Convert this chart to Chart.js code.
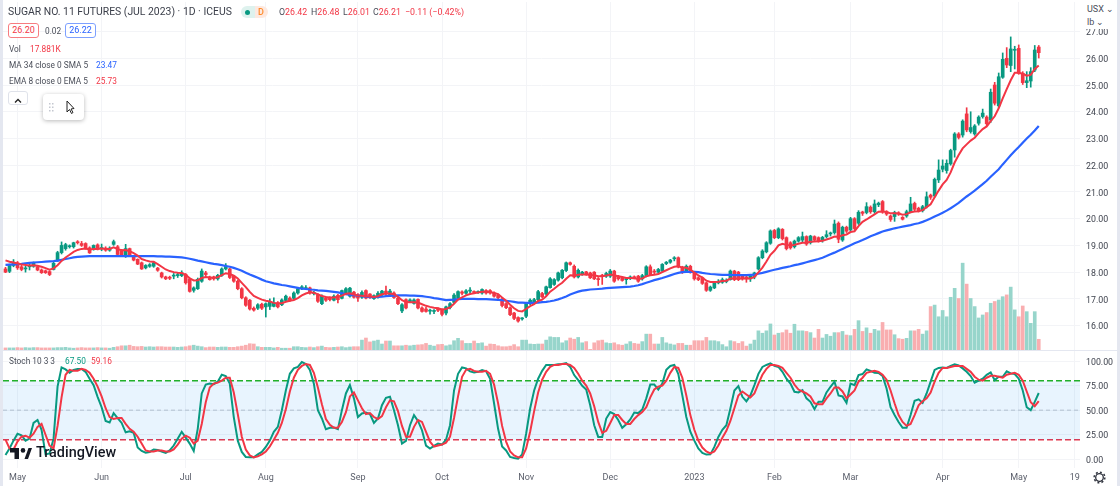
<!DOCTYPE html>
<html>
<head>
<meta charset="utf-8">
<title>Sugar No. 11 Futures</title>
<script src="https://cdn.jsdelivr.net/npm/chart.js@4"></script>
<style>
    html, body { margin: 0; padding: 0; background: #fff; overflow: hidden; }
    body { width: 1120px; height: 486px; position: relative; font-family: Roboto, sans-serif; color: #4a4e59; }
    canvas { position: absolute; left: 0; }
    .t { position: absolute; white-space: nowrap; font-size: 8.3px; line-height: 12px; }
    .red { color: #f23645; }
    .blue { color: #2962ff; }
    .teal { color: #089981; }
    .box { position: absolute; box-sizing: border-box; height: 15px; width: 31px; top: 23px; border-radius: 3px; background: #fff; font-size: 9px; line-height: 13px; text-align: center; }
    .edge { position: absolute; background: #e4e7f0; }
</style>
</head>
<body>
<canvas id="priceChart" width="1120" height="351" style="top:0"></canvas>
<canvas id="stochChart" width="1120" height="135" style="top:351px"></canvas>

<div class="edge" style="left:0;top:0;width:3px;height:486px"></div>
<div class="edge" style="left:1117px;top:0;width:3px;height:486px"></div>
<div class="edge" style="left:3px;top:350px;width:1114px;height:1px"></div>
<div style="position:absolute;left:1081px;top:0;width:36px;height:29px;background:#fff"></div>

<div class="t" style="left:1087px;top:3px;font-size:9px">USX &#8964;</div>
<div class="t" style="left:1087px;top:16px;font-size:9px">lb &#8964;</div>

<div class="t" style="left:8px;top:6px;font-size:10.4px;color:#3a3e49">SUGAR NO. 11 FUTURES (JUL 2023) · 1D · ICEUS</div>
<div style="position:absolute;left:241px;top:6px;width:14px;height:12px;background:#def2ee;border-radius:6px 0 0 6px"></div>
<div style="position:absolute;left:255px;top:6px;width:13px;height:12px;background:#fde9e0;border-radius:0 6px 6px 0"></div>
<div style="position:absolute;left:245px;top:9.5px;width:5px;height:5px;background:#089981;border-radius:50%"></div>
<div class="t" style="left:258px;top:6px;font-size:9px;color:#ff8a2b;font-weight:500">D</div>
<div class="t" style="left:279px;top:6px;font-size:8.8px"><span>O</span><span class="red">26.42</span></div>
<div class="t" style="left:311px;top:6px;font-size:8.8px"><span>H</span><span class="red">26.48</span></div>
<div class="t" style="left:343px;top:6px;font-size:8.8px"><span>L</span><span class="red">26.01</span></div>
<div class="t" style="left:373px;top:6px;font-size:8.8px"><span>C</span><span class="red">26.21</span></div>
<div class="t red" style="left:405px;top:6px;font-size:8.8px">−0.11 (−0.42%)</div>

<div class="box red" style="left:8px;border:1px solid #f77c80">26.20</div>
<div class="t" style="left:45px;top:25px">0.02</div>
<div class="box blue" style="left:65px;border:1px solid #7da0ff">26.22</div>

<div class="t" style="left:9px;top:43px">Vol</div>
<div class="t red" style="left:30px;top:43px">17.881K</div>
<div class="t" style="left:9px;top:59px">MA 34 close 0 SMA 5</div>
<div class="t blue" style="left:96px;top:59px">23.47</div>
<div class="t" style="left:9px;top:75px">EMA 8 close 0 EMA 5</div>
<div class="t red" style="left:96px;top:75px">25.73</div>

<div style="position:absolute;left:8px;top:91px;width:20px;height:14px;box-sizing:border-box;border:1px solid #dfe2ea;border-radius:3px;background:#fff">
    <svg width="18" height="12"><path d="M6 7.5 L9 4.5 L12 7.5" fill="none" stroke="#222" stroke-width="1.3"/></svg>
</div>
<div style="position:absolute;left:43px;top:94px;width:41px;height:26px;background:#fff;border-radius:4px;box-shadow:0 1px 4px rgba(0,0,0,.28)">
    <svg width="41" height="26">
        <g fill="#c4c7d0">
            <rect x="6" y="9" width="1.5" height="1.5"/><rect x="9" y="9" width="1.5" height="1.5"/>
            <rect x="6" y="12.5" width="1.5" height="1.5"/><rect x="9" y="12.5" width="1.5" height="1.5"/>
            <rect x="6" y="16" width="1.5" height="1.5"/><rect x="9" y="16" width="1.5" height="1.5"/>
        </g>
        <path d="M24 7 L24 18 L26.5 15.5 L28.5 19.5 L30 18.5 L28 15 L31 14.5 Z" fill="#fff" stroke="#222" stroke-width="1"/>
    </svg>
</div>

<div class="t" style="left:9px;top:355px">Stoch 10 3 3</div>
<div class="t teal" style="left:65px;top:355px">67.50</div>
<div class="t red" style="left:91px;top:355px">59.16</div>

<svg style="position:absolute;left:10px;top:447px" width="22" height="13">
    <path d="M0 1 H9 V12 H4.5 V5.5 H0 Z M14.5 12 L18.5 1 H22 L18 12 Z" fill="#131722"/>
    <circle cx="13" cy="3.4" r="2.3" fill="#131722"/>
</svg>
<div class="t" style="left:36px;top:444px;font-size:14.4px;line-height:18px;color:#131722;font-weight:500">TradingView</div>

<svg style="position:absolute;left:1093px;top:471px" width="13" height="13">
    <circle cx="6.5" cy="6.5" r="3.8" fill="none" stroke="#2a2e39" stroke-width="1.3"/>
    <circle cx="6.5" cy="6.5" r="5.4" fill="none" stroke="#2a2e39" stroke-width="1.4" stroke-dasharray="2 2.2"/>
</svg>

<script>
// tick labels and where they sit on the bar index
const timeIndex = [3, 24, 45, 65, 88, 109, 130, 151, 172, 192, 211, 234, 253, 267];
const timeLabels = ['May', 'Jun', 'Jul', 'Aug', 'Sep', 'Oct', 'Nov', 'Dec', '2023', 'Feb', 'Mar', 'Apr', 'May', '19'];
const priceTicks = [16, 17, 18, 19, 20, 21, 22, 23, 24, 25, 26, 27];
const stochTicks = [0, 25, 50, 75, 100];

const opens = [
    18.12,18.03,18.25,18.35,18.20,18.12,18.20,18.22,18.20,18.08,
    18.05,18.02,18.10,18.42,18.73,18.88,18.95,18.95,19.12,19.07,
    19.07,18.91,18.88,19.02,18.88,18.90,18.82,19.04,18.95,18.80,
    18.65,18.88,18.58,18.48,18.35,18.16,18.22,18.22,18.15,17.97,
    17.82,17.81,17.85,17.87,17.87,17.91,17.75,17.32,17.38,17.66,
    17.97,17.82,17.82,17.75,17.88,18.12,18.12,17.85,17.66,17.38,
    17.04,16.95,16.65,16.65,16.80,16.70,16.72,16.72,16.85,16.78,
    16.94,17.03,17.02,17.22,17.38,17.38,17.41,17.20,17.15,16.82,
    17.03,17.03,16.95,17.13,17.02,17.22,17.10,17.25,17.16,17.06,
    17.31,17.18,17.01,17.06,17.15,17.29,17.16,17.22,17.03,16.55,
    16.97,16.90,16.83,16.98,16.66,16.62,16.54,16.53,16.62,16.60,
    16.47,16.68,16.87,17.03,17.26,17.21,17.29,17.26,17.24,17.22,
    17.31,17.31,17.22,17.14,16.99,16.82,16.67,16.47,16.30,16.25,
    16.35,16.82,16.85,16.97,17.20,17.18,17.42,17.54,17.70,17.79,
    18.06,18.35,18.22,17.82,17.91,18.01,17.97,18.00,17.75,17.87,
    17.85,17.85,18.04,17.85,17.79,17.72,17.77,17.82,17.85,17.75,
    17.85,18.20,18.04,18.00,18.04,18.32,18.37,18.50,18.54,18.19,
    18.04,18.22,18.00,17.79,17.79,17.60,17.32,17.41,17.60,17.62,
    17.65,17.72,18.04,18.00,17.85,17.82,17.75,17.82,18.12,18.54,
    18.76,19.08,19.56,19.29,19.60,19.29,19.10,18.95,19.16,19.20,
    19.33,19.10,19.33,19.29,19.18,19.33,19.43,19.48,19.83,19.20,
    19.68,19.58,20.00,19.83,20.25,20.23,20.43,20.26,20.52,20.64,
    20.26,20.10,20.08,20.22,20.05,20.10,20.26,20.57,20.39,20.30,
    20.45,20.88,20.85,21.45,21.85,21.80,22.05,22.57,23.17,23.13,
    23.92,23.26,23.17,23.57,23.82,23.80,23.69,25.00,24.22,25.29,
    26.00,25.73,26.30,26.37,25.44,25.09,25.15,25.56,26.42
];
const highs = [
    18.18,18.30,18.47,18.40,18.30,18.22,18.30,18.38,18.25,18.12,
    18.08,18.05,18.38,18.78,19.13,19.08,19.02,19.12,19.18,19.15,
    19.10,18.95,19.02,19.06,19.05,18.95,18.95,19.20,19.00,18.85,
    19.04,18.90,18.62,18.50,18.38,18.28,18.32,18.38,18.18,18.00,
    17.85,17.85,17.95,17.97,18.05,17.95,17.78,17.45,17.78,18.12,
    18.03,17.85,17.85,17.92,18.16,18.32,18.15,17.88,17.70,17.42,
    17.08,16.98,16.70,16.82,16.84,16.85,17.00,17.04,16.90,17.00,
    17.14,17.08,17.26,17.42,17.50,17.50,17.44,17.28,17.20,17.15,
    17.08,17.08,17.15,17.17,17.33,17.42,17.43,17.28,17.20,17.30,
    17.34,17.20,17.15,17.27,17.32,17.48,17.36,17.26,17.06,16.82,
    17.00,17.00,17.00,17.00,16.70,16.68,16.62,16.60,16.66,16.63,
    16.73,16.86,17.20,17.30,17.30,17.35,17.42,17.30,17.30,17.38,
    17.35,17.35,17.26,17.18,17.02,16.86,16.70,16.50,16.33,16.30,
    16.87,17.00,17.02,17.32,17.24,17.48,17.80,17.76,18.00,18.10,
    18.38,18.38,18.27,18.12,18.03,18.03,18.00,18.02,17.80,17.92,
    18.00,18.10,18.07,17.88,17.82,17.80,17.86,17.86,17.88,17.92,
    18.24,18.27,18.10,18.14,18.32,18.40,18.48,18.58,18.57,18.22,
    18.27,18.26,18.03,17.83,17.82,17.63,17.48,17.64,17.72,17.78,
    17.75,18.08,18.07,18.03,17.90,17.85,17.90,18.00,18.58,18.84,
    19.14,19.58,19.60,19.66,19.63,19.32,19.14,19.20,19.33,19.50,
    19.36,19.38,19.36,19.32,19.34,19.55,19.50,19.95,19.88,19.72,
    19.72,20.05,20.04,20.30,20.28,20.60,20.48,20.70,20.62,20.68,
    20.30,20.14,20.28,20.26,20.08,20.32,20.80,20.62,20.43,20.50,
    21.00,20.92,21.52,22.20,22.20,22.20,22.60,23.22,23.22,23.70,
    24.15,24.00,23.52,23.85,24.10,23.85,24.85,25.10,25.45,26.20,
    26.40,26.80,26.45,26.50,25.50,25.50,25.65,26.48,26.48
];
const lows = [
    17.98,17.98,18.20,18.10,18.05,18.00,18.08,18.18,18.05,17.95,
    17.95,17.87,18.08,18.40,18.68,18.82,18.90,18.90,19.05,18.96,
    18.86,18.70,18.82,18.83,18.80,18.78,18.78,19.00,18.62,18.60,
    18.55,18.58,18.42,18.28,18.10,18.12,18.18,18.18,18.03,17.78,
    17.72,17.72,17.75,17.80,17.83,17.55,17.25,17.25,17.35,17.62,
    17.85,17.70,17.70,17.70,17.84,18.08,17.76,17.62,17.34,17.00,
    16.72,16.58,16.54,16.60,16.60,16.32,16.60,16.70,16.66,16.75,
    16.90,16.90,16.98,17.18,17.34,17.34,17.18,17.15,16.87,16.78,
    16.90,16.92,16.92,16.85,17.00,17.18,17.06,17.03,16.90,17.02,
    17.00,17.02,16.98,17.03,17.12,17.15,17.12,17.02,16.78,16.48,
    16.62,16.86,16.80,16.62,16.50,16.50,16.43,16.45,16.52,16.36,
    16.40,16.62,16.82,17.00,17.15,17.17,17.18,17.20,17.20,17.18,
    17.18,17.18,17.06,17.00,16.70,16.63,16.37,16.22,16.13,16.20,
    16.30,16.78,16.80,16.93,17.04,17.14,17.40,17.50,17.66,17.75,
    18.02,18.26,17.78,17.78,17.88,17.88,17.76,17.72,17.50,17.54,
    17.80,17.80,17.62,17.70,17.66,17.55,17.72,17.75,17.62,17.70,
    17.82,17.88,17.93,17.95,18.00,18.28,18.33,18.42,18.16,17.95,
    18.00,17.96,17.70,17.68,17.54,17.28,17.28,17.38,17.56,17.58,
    17.60,17.70,17.68,17.68,17.70,17.62,17.65,17.75,18.08,18.50,
    18.72,19.04,19.25,19.25,19.20,18.83,18.86,18.90,19.12,19.12,
    19.00,19.05,19.15,19.12,19.12,19.28,19.35,19.42,19.10,19.15,
    19.48,19.52,19.58,19.78,20.12,20.18,20.20,20.20,20.45,20.20,
    20.12,19.90,19.90,20.12,19.95,20.05,20.22,20.28,20.25,20.25,
    20.40,20.72,20.80,21.35,21.75,21.70,22.00,22.30,22.98,23.05,
    23.25,23.20,23.12,23.50,23.76,23.48,23.60,24.25,24.15,25.25,
    25.65,25.50,25.60,25.40,25.02,24.90,24.92,25.50,26.01
];
const closes = [
    18.00,18.25,18.37,18.16,18.10,18.15,18.22,18.35,18.08,17.98,
    17.98,17.91,18.33,18.73,19.00,19.03,18.98,19.10,19.10,19.00,
    18.90,18.72,19.00,18.87,18.92,18.82,18.90,19.14,18.66,18.65,
    18.88,18.62,18.45,18.30,18.12,18.25,18.28,18.35,18.07,17.82,
    17.75,17.77,17.87,17.91,17.97,17.60,17.28,17.41,17.73,18.04,
    17.91,17.72,17.75,17.88,18.12,18.22,17.80,17.66,17.38,17.04,
    16.76,16.62,16.58,16.78,16.65,16.82,16.88,16.85,16.70,16.96,
    17.10,16.95,17.22,17.38,17.45,17.42,17.22,17.23,16.91,17.10,
    16.95,16.97,17.10,16.97,17.31,17.38,17.40,17.06,17.03,17.24,
    17.03,17.05,17.12,17.21,17.29,17.19,17.29,17.05,16.82,16.78,
    16.66,16.96,16.96,16.66,16.53,16.53,16.56,16.55,16.57,16.42,
    16.70,16.82,17.14,17.27,17.21,17.30,17.32,17.24,17.27,17.35,
    17.22,17.22,17.10,17.04,16.75,16.67,16.41,16.27,16.17,16.27,
    16.82,16.95,16.97,17.27,17.08,17.45,17.75,17.72,17.97,18.07,
    18.35,18.29,17.82,18.07,18.00,17.91,17.79,17.75,17.72,17.85,
    17.95,18.04,17.66,17.75,17.69,17.75,17.82,17.79,17.66,17.87,
    18.20,17.91,18.00,18.10,18.29,18.37,18.45,18.53,18.20,18.00,
    18.22,18.00,17.75,17.72,17.58,17.32,17.44,17.60,17.66,17.72,
    17.70,18.04,17.72,17.72,17.75,17.75,17.85,17.97,18.54,18.79,
    19.10,19.54,19.29,19.62,19.25,18.88,18.91,19.16,19.29,19.33,
    19.05,19.35,19.20,19.18,19.30,19.40,19.45,19.80,19.23,19.68,
    19.53,20.00,19.63,20.24,20.20,20.45,20.26,20.55,20.58,20.26,
    20.17,19.97,20.23,20.17,19.98,20.26,20.55,20.35,20.30,20.45,
    20.82,20.80,21.47,21.82,21.97,22.07,22.55,23.17,23.04,23.65,
    23.32,23.41,23.47,23.80,23.95,23.55,24.73,24.32,25.31,25.96,
    25.75,26.35,26.33,25.44,25.09,25.16,25.50,26.31,26.21
];
// volume in thousands
const volumes = [
    3.5,3.5,3.5,4,3.5,4,3.5,4,4,3.5,
    3.5,3.5,3.5,4,4,4.5,3.5,3,3.5,4,
    3.5,3.5,3.5,4,3.5,3.5,3,4.5,5.5,7,
    7,8,6,5.5,6,5,5.5,5,5.5,5.5,
    5,5,5,4.5,5,5.5,7,8,6.5,5.5,
    4,5,5,4.5,5,5,4.5,4.5,5.5,6.5,
    8,10.5,10,5.5,4.5,4.5,4.5,3.5,4.5,3,
    3,3,5.5,5.5,4.5,4,5,4,5.5,6.5,
    4.5,4,4.5,5,5.5,4,5,5.5,5.5,16.5,
    20,13.5,15,16.5,10,15,15,7,7,7,
    8,7,8,8.5,9,11,8,6.5,9,9.5,
    7,8.5,15.5,19.5,15.5,11,11,15,11,12,
    6.5,10,9.5,7,5.5,5.5,6.5,9,5.5,16.5,
    16.5,10,9.5,10,10,16.5,22,21,21,12,
    15.5,20,18,21,12,14,1,12,15.5,16.5,
    12,11,12,9,8,10,14,11,10,14,
    26.5,26.5,10,10,21,12,10,8.5,11,11,
    8,8,15.5,15.5,15.5,21,15.5,15.5,14,9,
    5.5,15.5,14,11,14,6.5,10,16.5,32,28,
    32,43.5,25,28,29,33.5,28,43,32,32,
    31,29,20,34.5,20,26,23,29,29,31,
    25,24,34.5,49,31,37,28,34.5,32,46,
    33.5,33.5,25.5,19,18,19.5,32,32,34.5,26.5,
    32,72.5,75,55.5,66,55.5,88,103,86,145,
    110,86,72.5,53.5,58.5,62.5,78,81,83.5,89,
    92,105,67,55.5,73.5,64,44.5,64,17.881
];
const ma34 = [
    18.27,18.28,18.29,18.30,18.31,18.33,18.35,18.36,18.37,18.38,
    18.39,18.40,18.41,18.43,18.46,18.49,18.52,18.55,18.57,18.58,
    18.59,18.60,18.60,18.60,18.60,18.60,18.60,18.60,18.60,18.60,
    18.60,18.60,18.60,18.60,18.60,18.60,18.60,18.60,18.59,18.59,
    18.58,18.58,18.57,18.56,18.55,18.53,18.50,18.47,18.43,18.40,
    18.37,18.34,18.31,18.29,18.26,18.23,18.20,18.16,18.11,18.05,
    17.98,17.91,17.85,17.79,17.72,17.66,17.62,17.58,17.55,17.52,
    17.50,17.47,17.44,17.41,17.38,17.37,17.35,17.34,17.32,17.31,
    17.30,17.28,17.26,17.24,17.21,17.18,17.15,17.14,17.12,17.10,
    17.08,17.06,17.06,17.07,17.08,17.10,17.11,17.12,17.13,17.13,
    17.13,17.12,17.12,17.11,17.10,17.08,17.06,17.03,17.01,16.98,
    16.95,16.96,16.97,16.99,17.00,17.00,17.00,17.00,16.99,16.99,
    16.99,16.98,16.97,16.96,16.95,16.93,16.91,16.89,16.86,16.86,
    16.85,16.85,16.85,16.86,16.88,16.89,16.91,16.94,16.98,17.03,
    17.09,17.16,17.22,17.27,17.31,17.33,17.35,17.36,17.37,17.38,
    17.40,17.41,17.42,17.43,17.44,17.45,17.46,17.48,17.51,17.55,
    17.60,17.65,17.70,17.74,17.78,17.83,17.88,17.93,17.97,18.00,
    18.01,18.01,18.01,18.00,17.97,17.95,17.93,17.92,17.91,17.90,
    17.90,17.90,17.89,17.89,17.89,17.89,17.90,17.91,17.94,17.97,
    18.01,18.05,18.09,18.12,18.16,18.19,18.22,18.26,18.29,18.33,
    18.37,18.41,18.45,18.49,18.54,18.60,18.67,18.73,18.80,18.87,
    18.94,19.01,19.08,19.14,19.20,19.27,19.34,19.40,19.46,19.52,
    19.56,19.60,19.64,19.67,19.70,19.73,19.76,19.80,19.83,19.88,
    19.94,20.01,20.08,20.15,20.22,20.30,20.39,20.49,20.59,20.71,
    20.83,20.94,21.05,21.17,21.29,21.42,21.57,21.71,21.85,22.03,
    22.20,22.37,22.53,22.68,22.84,23.00,23.14,23.30,23.47
];
const ema8 = [
    18.44,18.39,18.36,18.32,18.29,18.27,18.25,18.26,18.24,18.20,
    18.15,18.09,18.14,18.26,18.42,18.55,18.65,18.76,18.83,18.87,
    18.88,18.84,18.87,18.87,18.88,18.87,18.87,18.93,18.86,18.82,
    18.83,18.78,18.71,18.62,18.49,18.44,18.40,18.39,18.30,18.20,
    18.10,18.04,18.00,17.98,17.97,17.90,17.77,17.69,17.70,17.78,
    17.82,17.80,17.79,17.81,17.89,17.96,17.93,17.87,17.76,17.60,
    17.44,17.26,17.11,17.04,16.97,16.93,16.90,16.85,16.84,16.84,
    16.89,16.93,16.96,17.03,17.13,17.20,17.25,17.23,17.17,17.11,
    17.07,17.05,17.05,17.07,17.12,17.19,17.21,17.16,17.13,17.12,
    17.10,17.09,17.07,17.10,17.17,17.20,17.20,17.17,17.08,16.95,
    16.88,16.87,16.87,16.86,16.80,16.74,16.70,16.67,16.65,16.60,
    16.62,16.68,16.82,16.97,17.06,17.13,17.18,17.21,17.24,17.27,
    17.27,17.26,17.22,17.18,17.05,16.93,16.78,16.65,16.55,16.53,
    16.62,16.73,16.80,16.92,16.97,17.10,17.27,17.38,17.50,17.60,
    17.75,17.88,17.87,17.90,17.91,17.91,17.89,17.88,17.85,17.85,
    17.87,17.91,17.88,17.85,17.82,17.78,17.78,17.77,17.74,17.76,
    17.85,17.88,17.90,17.93,18.00,18.07,18.14,18.20,18.22,18.17,
    18.16,18.09,17.98,17.88,17.80,17.68,17.63,17.63,17.64,17.67,
    17.68,17.76,17.76,17.76,17.76,17.76,17.76,17.82,17.99,18.17,
    18.40,18.65,18.80,19.00,19.06,19.02,19.00,19.02,19.06,19.10,
    19.10,19.14,19.15,19.16,19.17,19.22,19.27,19.33,19.32,19.38,
    19.41,19.50,19.53,19.72,19.88,19.97,20.07,20.16,20.26,20.27,
    20.25,20.20,20.20,20.19,20.15,20.17,20.24,20.27,20.28,20.32,
    20.43,20.54,20.80,21.05,21.28,21.45,21.73,22.10,22.38,22.63,
    22.78,22.92,23.03,23.20,23.35,23.45,23.65,23.83,24.13,24.50,
    24.85,25.18,25.46,25.46,25.42,25.35,25.38,25.60,25.73
];
const stochK = [
    4.4,11,19,26,24.5,19,21,37,40,30,
    5,6,21,74,93.5,91.5,88,91,92,92,
    89,82,75.5,63.6,53,39,37.4,47,42,37,
    27.5,28.6,27,12,8.5,6.8,7.5,10,9.5,8,
    6.5,9,14,21,28,22,16,8.5,31,67,
    76,77,76.5,79,86,84.7,77,43,19,7.5,
    2.4,2,2,5,7.5,12.6,19,28,33,50,
    70,87,92.5,94,99,97,91,77,50,41.5,
    30.6,32,32.3,30.6,50,67,75.5,62,43,46.6,
    47.6,46,37,41.5,55,62.6,63.6,50,34.7,16,
    18.7,34.7,45,39,29.6,14,11,13.6,16,15,
    20,34.7,70,87,93.5,92.5,89.5,88.4,89,90.8,
    89.5,82,56.8,31,13,9,2.4,1.4,0.7,5,
    26,51.7,70,82,90,96,96,96,96.6,97,
    98,94,85.7,80.6,74.8,71,55,34.7,22.8,22.8,
    41.5,48,46,40,32,35.7,40.5,47.6,47,50.7,
    62,76,76,71,77,91,95,96,86.7,65,
    43,28,19,11,6.5,4.8,5,12.6,22.8,30,
    34.7,51.7,70,74.5,63.6,59,65,75.5,87,94,
    96,97.6,95,94,89,82,77,68.7,68,70.4,
    62,58.5,51,58.5,58.5,68,73.8,79,65,64,
    57.5,77,75.5,85.7,86.7,91.5,90,88,87.8,84.7,
    72,53,45,38,32,32,45,59.5,61,57.5,
    67,79,91,93,93.5,93,95,96.6,95.6,92.5,
    89,84.7,78,80,82,86,88.4,80.6,84,84,
    89.5,87.4,86.7,82,70,53,50,58.5,67.5
];
const stochD = [
    20,11,10,18,23,24,22,26,33,36,
    25,14,11,34,63,86,91,90,90,92,
    91,88,82,74,64,52,43,41,42,42,
    36,31,28,23,16,9,8,8,9,9,
    8,8,10,15,21,24,22,16,19,36,
    58,73,77,78,80,83,83,68,46,23,
    10,4,2,3,5,8,13,20,27,37,
    51,69,83,91,95,97,96,88,73,56,
    41,35,32,32,38,48,64,68,60,52,
    46,47,43,41,44,53,60,59,49,34,
    23,23,33,40,38,28,18,13,14,15,
    17,23,42,64,84,91,92,90,89,89,
    90,87,76,57,34,18,8,4,2,2,
    11,28,49,68,81,89,94,96,96,97,
    97,96,93,87,80,75,67,54,38,27,
    29,37,45,45,40,36,36,41,45,48,
    53,63,71,74,75,80,88,94,93,83,
    65,45,30,19,12,8,6,8,14,22,
    29,39,52,65,69,66,63,67,77,86,
    92,96,96,95,93,88,83,76,71,69,
    67,64,57,56,56,62,67,73,73,69,
    62,66,70,79,83,88,89,90,89,86,
    81,70,57,45,38,34,36,45,55,59,
    62,68,79,88,93,93,94,95,95,95,
    92,89,84,81,80,83,85,85,84,83,
    86,87,88,86,80,69,58,54,59.16
];
const upperBand = [80, 80];
const middleBand = [50, 50];
const lowerBand = [20, 20];

const UP = '#089981';
const DOWN = '#f23645';
const GRID = '#f3f4f7';
const X_MIN = -0.624;
const X_MAX = 268.3;

const candleColors = opens.map((o, i) => closes[i] >= o ? UP : DOWN);
const volumeColors = opens.map((o, i) => closes[i] >= o ? '#97d5cb' : '#f9aeb0');
const bandLine = (values) => [{ x: X_MIN, y: values[0] }, { x: X_MAX, y: values[1] }];
const series = (values) => values.map((y, x) => ({ x, y }));

// roboto sits a bit high with a middle baseline, nudge the value labels down onto their gridlines
const nudgeLabels = {
    id: 'nudgeLabels',
    afterLayout(chart) {
        chart.scales.y.getLabelItems(chart.chartArea).forEach((item) => {
            item.options.translation[1] += 1.5;
        });
    }
};

function timeScale(showLabels) {
    return {
        type: 'linear',
        offset: false,
        min: X_MIN,
        max: X_MAX,
        afterBuildTicks: (scale) => { scale.ticks = timeIndex.map((value) => ({ value })); },
        afterFit: (scale) => {
            scale.height = showLabels ? 18 : 0;
            scale.paddingLeft = 0;
            scale.paddingRight = 0;
        },
        border: { display: false },
        grid: { color: GRID, drawTicks: false, offset: false },
        ticks: {
            display: showLabels,
            autoSkip: false,
            maxRotation: 0,
            padding: 4,
            color: '#5b5f6b',
            font: { family: 'Roboto, sans-serif', size: 9 },
            callback: (value, index) => timeLabels[index]
        }
    };
}

function valueScale(min, max, tickValues) {
    return {
        position: 'right',
        min,
        max,
        afterBuildTicks: (scale) => { scale.ticks = tickValues.map((value) => ({ value })); },
        afterFit: (scale) => {
            scale.width = 40;
            scale.paddingTop = 0;
            scale.paddingBottom = 0;
        },
        border: { display: false },
        grid: { color: GRID, drawTicks: false },
        ticks: {
            padding: 6,
            color: '#3f434e',
            font: { family: 'Roboto, sans-serif', size: 8.8 },
            callback: (value) => value.toFixed(2)
        }
    };
}

const sharedOptions = {
    responsive: false,
    animation: false,
    devicePixelRatio: 1,
    plugins: { legend: { display: false }, tooltip: { enabled: false } }
};

new Chart(document.getElementById('priceChart').getContext('2d'), {
    type: 'bar',
    plugins: [nudgeLabels],
    data: {
        datasets: [
            {
                type: 'line', label: 'EMA 8', data: series(ema8), yAxisID: 'y', order: 0,
                borderColor: DOWN, borderWidth: 2, pointRadius: 0
            },
            {
                type: 'line', label: 'MA 34', data: series(ma34), yAxisID: 'y', order: 1,
                borderColor: '#2962ff', borderWidth: 2.2, pointRadius: 0
            },
            {
                label: 'Body', data: opens.map((o, i) => ({ x: i, y: [o, closes[i]] })), yAxisID: 'y', order: 2,
                backgroundColor: candleColors, barThickness: 3, grouped: false, minBarLength: 1
            },
            {
                label: 'Wick', data: lows.map((l, i) => ({ x: i, y: [l, highs[i]] })), yAxisID: 'y', order: 3,
                backgroundColor: candleColors, barThickness: 1, grouped: false
            },
            {
                label: 'Vol', data: series(volumes), yAxisID: 'yVol', order: 4,
                backgroundColor: volumeColors, barThickness: 3, grouped: false
            }
        ]
    },
    options: {
        ...sharedOptions,
        layout: { padding: { left: 3, top: 2, bottom: 1 } },
        scales: {
            x: timeScale(false),
            y: valueScale(15.087, 28.106, priceTicks),
            yVol: { display: false, min: 0, max: 581 }
        }
    }
});

new Chart(document.getElementById('stochChart').getContext('2d'), {
    type: 'line',
    plugins: [nudgeLabels],
    data: {
        datasets: [
            {
                label: '%K', data: series(stochK), order: 0,
                borderColor: UP, borderWidth: 2, pointRadius: 0
            },
            {
                label: '%D', data: series(stochD), order: -1,
                borderColor: DOWN, borderWidth: 2, pointRadius: 0
            },
            {
                label: 'Upper', data: bandLine(upperBand), order: 3, fill: '+1',
                backgroundColor: 'rgba(33,150,243,0.1)',
                borderColor: '#21b02a', borderWidth: 1.5, borderDash: [6, 3], pointRadius: 0
            },
            {
                label: 'Lower', data: bandLine(lowerBand), order: 3,
                borderColor: '#e5364b', borderWidth: 1.5, borderDash: [6, 3], pointRadius: 0
            },
            {
                label: 'Middle', data: bandLine(middleBand), order: 3,
                borderColor: '#c3c5cc', borderWidth: 1, borderDash: [4, 3], pointRadius: 0
            }
        ]
    },
    options: {
        ...sharedOptions,
        layout: { padding: { left: 3 } },
        scales: {
            x: timeScale(true),
            y: valueScale(-8.85, 110.2, stochTicks)
        }
    }
});
</script>
</body>
</html>
